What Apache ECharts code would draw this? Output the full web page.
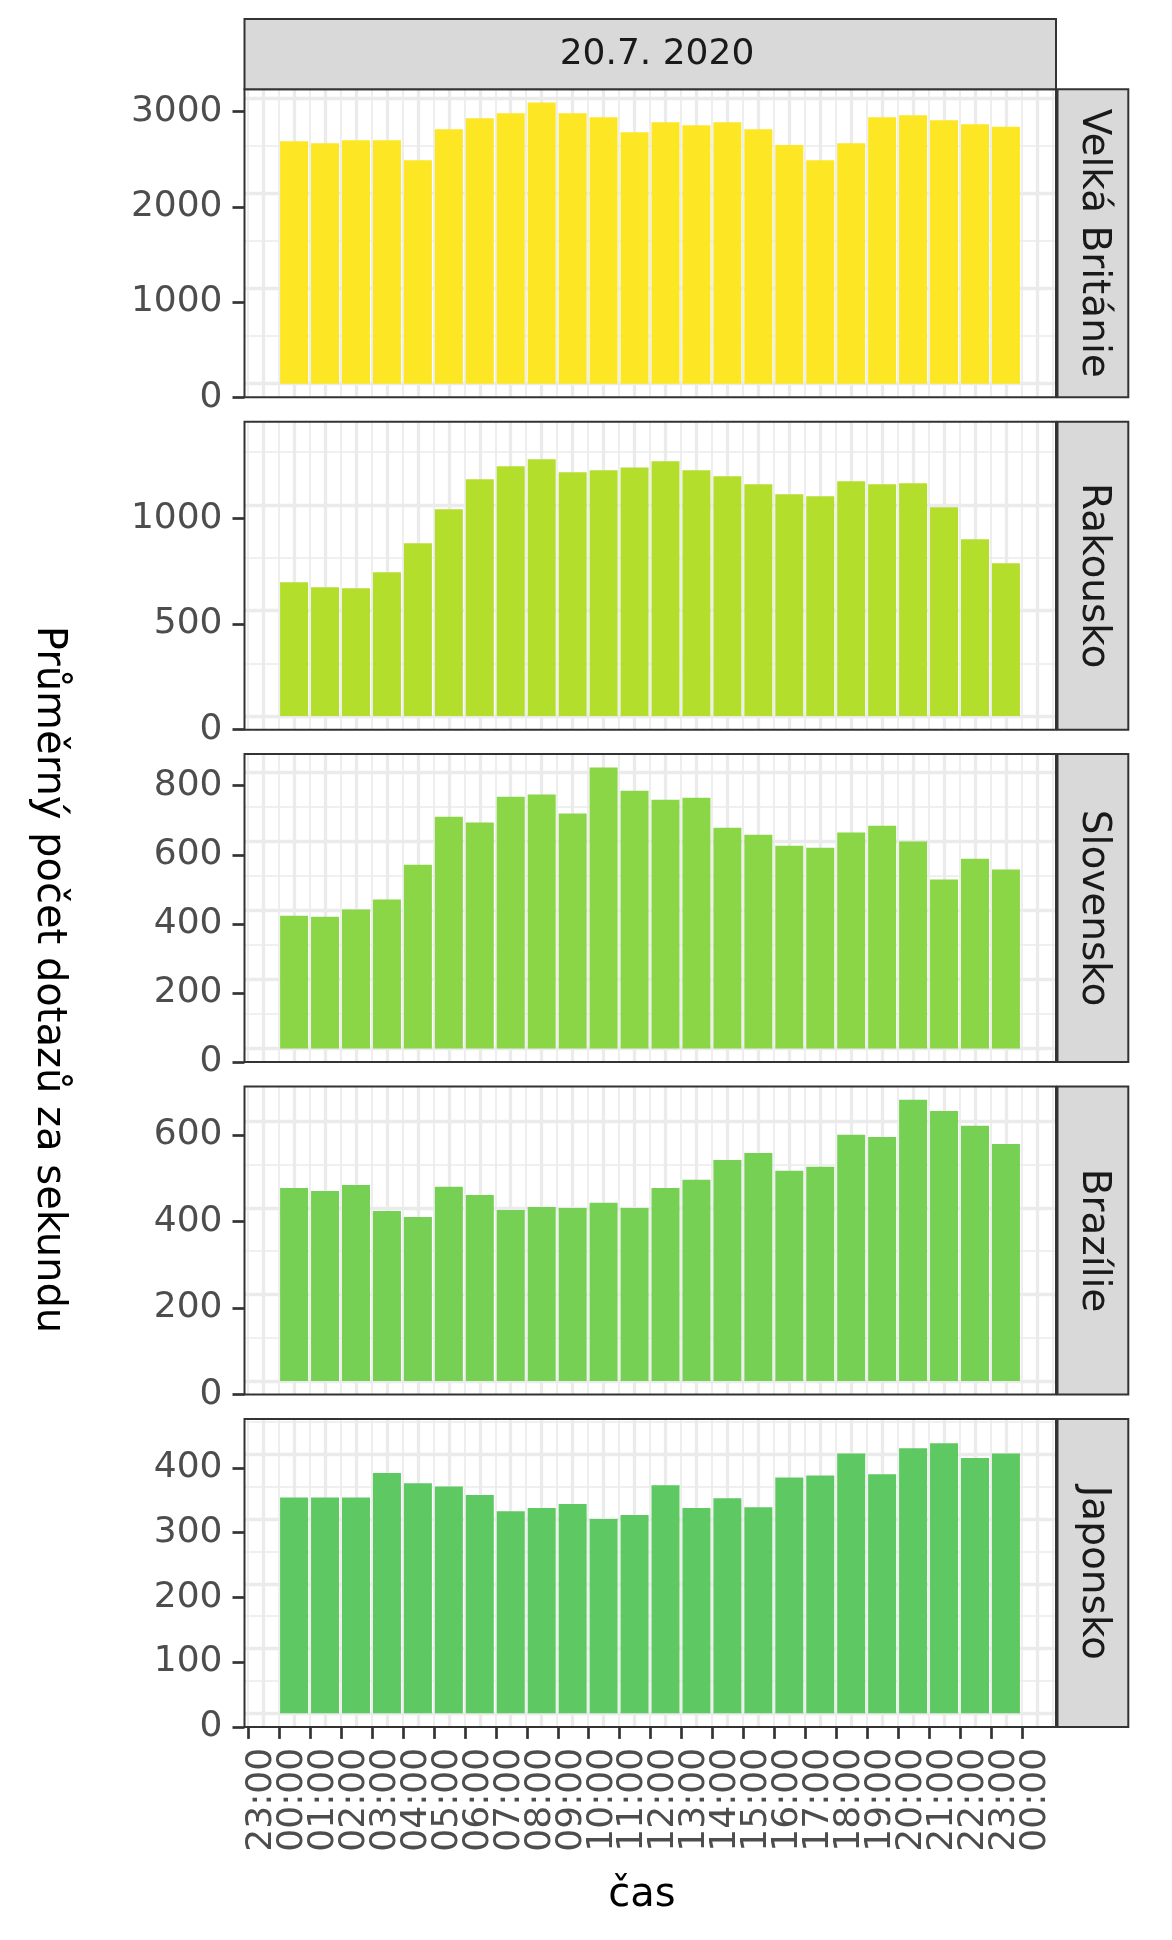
<!DOCTYPE html>
<html><head><meta charset="utf-8">
<script src="https://cdn.jsdelivr.net/npm/echarts@6/dist/echarts.min.js"></script>
<style>html,body{margin:0;padding:0;background:#fff}#chart{width:1172px;height:1940px}</style>
</head><body><div id="chart"></div>
<script>
// ---------------- data ----------------
const DATE_LABEL = '20.7. 2020';
const COUNTRIES = ['Velká Británie', 'Rakousko', 'Slovensko', 'Brazílie', 'Japonsko'];
const HOURS = ['00:00','01:00','02:00','03:00','04:00','05:00','06:00','07:00','08:00','09:00','10:00','11:00',
               '12:00','13:00','14:00','15:00','16:00','17:00','18:00','19:00','20:00','21:00','22:00','23:00'];
const X_TICK_LABELS = ['23:00','00:00','01:00','02:00','03:00','04:00','05:00','06:00','07:00','08:00','09:00','10:00','11:00',
                       '12:00','13:00','14:00','15:00','16:00','17:00','18:00','19:00','20:00','21:00','22:00','23:00','00:00'];
const VALUES_UK = [2547, 2526, 2558, 2558, 2348, 2673, 2789, 2841, 2954, 2841, 2799, 2642, 2747, 2715, 2747, 2673, 2508, 2348, 2526, 2799, 2820, 2768, 2726, 2698];
const VALUES_AT = [633, 610, 605, 681, 818, 979, 1121, 1182, 1215, 1154, 1163, 1177, 1206, 1163, 1135, 1097, 1050, 1040, 1111, 1097, 1102, 988, 837, 723];
const VALUES_SK = [384, 381, 402, 431, 532, 671, 654, 729, 735, 680, 813, 746, 720, 726, 639, 619, 587, 581, 625, 645, 599, 489, 549, 518];
const VALUES_BR = [446, 439, 453, 393, 379, 449, 430, 395, 402, 400, 412, 400, 446, 465, 511, 527, 486, 495, 569, 564, 650, 624, 590, 548];
const VALUES_JP = [333, 333, 333, 371, 355, 350, 337, 312, 317, 323, 300, 306, 352, 317, 332, 318, 364, 367, 401, 369, 409, 417, 394, 401];
const Y_TICKS_UK = [0, 1000, 2000, 3000];
const Y_TICKS_AT = [0, 500, 1000];
const Y_TICKS_SK = [0, 200, 400, 600, 800];
const Y_TICKS_BR = [0, 200, 400, 600];
const Y_TICKS_JP = [0, 100, 200, 300, 400];
const Y_MINOR_UK = [500, 1500, 2500];
const Y_MINOR_AT = [250, 750, 1250];
const Y_MINOR_SK = [100, 300, 500, 700];
const Y_MINOR_BR = [100, 300, 500];
const Y_MINOR_JP = [50, 150, 250, 350, 450];
const Y_AXIS_MAX = [3234.7, 1457.6, 891.5, 712.1, 475.5];
const X_AXIS_TITLE = 'čas';
const Y_AXIS_TITLE = 'Průměrný počet dotazů za sekundu';

const VALUES = [VALUES_UK, VALUES_AT, VALUES_SK, VALUES_BR, VALUES_JP];
const Y_TICKS = [Y_TICKS_UK, Y_TICKS_AT, Y_TICKS_SK, Y_TICKS_BR, Y_TICKS_JP];
const Y_MINOR = [Y_MINOR_UK, Y_MINOR_AT, Y_MINOR_SK, Y_MINOR_BR, Y_MINOR_JP];

// ---------------- layout / style ----------------
const COLORS = ['#FDE725', '#B4DE2C', '#8AD647', '#75D054', '#5EC962'];
const FONT = '"DejaVu Sans", "Noto Sans", sans-serif';
const L = 244.5, R = 1056, W = R - L, H = 308, TOP0 = 89.3, PITCH = 332.4;
const BASE_SHIFT = 13.6;
const X_AX_MIN = -0.1228, X_AX_MAX = 26.097;
const PX_PER_HOUR = W / (X_AX_MAX - X_AX_MIN);
const CONTENT_X0 = 294.1;
const CX_MIN = (L - CONTENT_X0) / PX_PER_HOUR, CX_MAX = (R - CONTENT_X0) / PX_PER_HOUR;
const LABEL_SHIFT = 13.4 / PX_PER_HOUR;
const GRID_COL = '#EBEBEB', MAJOR_W = 3.3, MINOR_W = 1.7;
const DARK = '#333333';

const xMajor = [], xMinor = [];
for (let k = -1; k <= HOURS.length; k++) { xMajor.push(k); xMinor.push(k - 0.5); }
xMinor.push(HOURS.length + 0.5);
const xTickPos = X_TICK_LABELS.map((_, i) => i);
const xLabelsEven = xTickPos.filter(i => i % 2 === 0);
const xLabelsOdd = xTickPos.filter(i => i % 2 === 1);

const grids = [], xAxes = [], yAxes = [], series = [], graphics = [];
const hidden = {axisLine: {show: false, onZero: false}, axisLabel: {show: false}};

for (let i = 0; i < 5; i++) {
  const top = TOP0 + i * PITCH;
  grids.push({left: L, top: top, width: W, height: H, containLabel: false, outerBoundsMode: 'none'});
  const ymax = Y_AXIS_MAX[i];
  const ppu = H / ymax;
  const cymin = -BASE_SHIFT / ppu, cymax = (H - BASE_SHIFT) / ppu;

  const xMajIdx = xAxes.length;
  xAxes.push(Object.assign({gridIndex: i, type: 'value', position: 'bottom', min: CX_MIN, max: CX_MAX,
    axisTick: {show: false, customValues: xMajor},
    splitLine: {show: true, lineStyle: {color: GRID_COL, width: MAJOR_W}}}, hidden));
  xAxes.push(Object.assign({gridIndex: i, type: 'value', position: 'bottom', min: CX_MIN, max: CX_MAX,
    axisTick: {show: false, customValues: xMinor},
    splitLine: {show: true, lineStyle: {color: GRID_COL, width: MINOR_W}}}, hidden));

  const yMajIdx = yAxes.length;
  yAxes.push(Object.assign({gridIndex: i, type: 'value', position: 'left', min: cymin, max: cymax,
    axisTick: {show: false, customValues: Y_TICKS[i]},
    splitLine: {show: true, lineStyle: {color: GRID_COL, width: MAJOR_W}}}, hidden));
  yAxes.push(Object.assign({gridIndex: i, type: 'value', position: 'left', min: cymin, max: cymax,
    axisTick: {show: false, customValues: Y_MINOR[i]},
    splitLine: {show: true, lineStyle: {color: GRID_COL, width: MINOR_W}}}, hidden));
  // displayed y axis
  yAxes.push({gridIndex: i, type: 'value', position: 'left', min: 0, max: ymax,
    axisLine: {show: false, onZero: false},
    axisTick: {show: true, customValues: Y_TICKS[i], length: 12, lineStyle: {color: DARK, width: 2.7}},
    axisLabel: {show: true, customValues: Y_TICKS[i], margin: 22, fontSize: 36, color: '#4D4D4D', fontFamily: FONT,
      showMinLabel: true, showMaxLabel: true, formatter: v => String(v)},
    splitLine: {show: false}});

  series.push({type: 'bar', xAxisIndex: xMajIdx, yAxisIndex: yMajIdx,
    data: VALUES[i].map((v, j) => [HOURS.indexOf(HOURS[j]), v]),
    barWidth: 28, itemStyle: {color: COLORS[i]}, silent: true});

  // panel border
  graphics.push({type: 'rect', z: 100, silent: true, shape: {x: L, y: top, width: W, height: H},
    style: {fill: 'none', stroke: DARK, lineWidth: 2}});
  // right strip
  graphics.push({type: 'rect', z: 100, silent: true, shape: {x: R + 1.5, y: top, width: 70.8, height: H},
    style: {fill: '#D9D9D9', stroke: DARK, lineWidth: 2}});
  graphics.push({type: 'text', z: 101, silent: true, x: R + 1.5 + 35.4, y: top + H / 2, rotation: -Math.PI / 2,
    style: {text: COUNTRIES[i], fontSize: 39, fontFamily: FONT, fill: '#1A1A1A',
      align: 'center', verticalAlign: 'middle', textAlign: 'center', textVerticalAlign: 'middle'}});
}

// displayed x axis (bottom panel)
xAxes.push({gridIndex: 4, type: 'value', position: 'bottom', min: X_AX_MIN, max: X_AX_MAX,
  axisLine: {show: false, onZero: false},
  axisTick: {show: true, customValues: xTickPos, length: 12, lineStyle: {color: DARK, width: 2.7}},
  axisLabel: {show: false}, splitLine: {show: false}});
[xLabelsEven, xLabelsOdd].forEach(vals => {
  xAxes.push({gridIndex: 4, type: 'value', position: 'bottom', min: X_AX_MIN - LABEL_SHIFT, max: X_AX_MAX - LABEL_SHIFT,
    axisLine: {show: false, onZero: false}, axisTick: {show: false},
    axisLabel: {show: true, customValues: vals, rotate: 90, margin: 21, fontSize: 36,
      color: '#4D4D4D', fontFamily: FONT, showMinLabel: true, showMaxLabel: true, hideOverlap: false,
      formatter: v => X_TICK_LABELS[Math.round(v)]},
    splitLine: {show: false}});
});

// top strip
graphics.push({type: 'rect', z: 100, silent: true, shape: {x: L, y: 19, width: W, height: TOP0 - 19},
  style: {fill: '#D9D9D9', stroke: DARK, lineWidth: 2}});
graphics.push({type: 'text', z: 101, silent: true, x: 657, y: 54.2,
  style: {text: DATE_LABEL, fontSize: 36, fontFamily: FONT, fill: '#1A1A1A',
    align: 'center', verticalAlign: 'middle', textAlign: 'center', textVerticalAlign: 'middle'}});
// axis titles
graphics.push({type: 'text', z: 101, silent: true, x: 642, y: 1896,
  style: {text: X_AXIS_TITLE, fontSize: 40, fontFamily: FONT, fill: '#000000',
    align: 'center', verticalAlign: 'middle', textAlign: 'center', textVerticalAlign: 'middle'}});
graphics.push({type: 'text', z: 101, silent: true, x: 48, y: 979.5, rotation: -Math.PI / 2,
  style: {text: Y_AXIS_TITLE, fontSize: 40, fontFamily: FONT, fill: '#000000',
    align: 'center', verticalAlign: 'middle', textAlign: 'center', textVerticalAlign: 'middle'}});

const chart = echarts.init(document.getElementById('chart'), null, {renderer: 'canvas'});
chart.setOption({
  animation: false,
  backgroundColor: '#FFFFFF',
  grid: grids,
  xAxis: xAxes,
  yAxis: yAxes,
  series: series,
  graphic: {elements: graphics}
});
</script>
</body></html>
